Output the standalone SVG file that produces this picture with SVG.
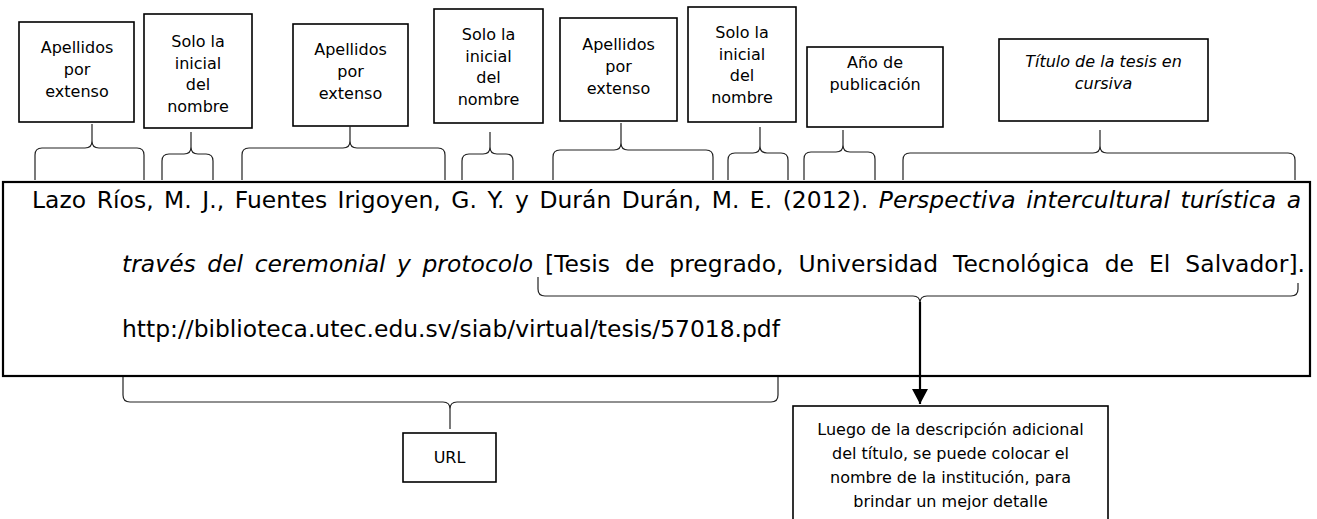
<svg xmlns="http://www.w3.org/2000/svg" width="1317" height="519" viewBox="0 0 1317 519">
<style>
.box{fill:#fff;stroke:#000;stroke-width:1.6}
.main-box{fill:#fff;stroke:#000;stroke-width:2.2}
.brace{fill:none;stroke:#222;stroke-width:1.2}
.lbl{font-family:"DejaVu Sans",Verdana,sans-serif;font-size:16px;text-anchor:middle;fill:#000}
.it{font-style:italic}
.main{font-family:"DejaVu Sans",Verdana,sans-serif;font-size:23.4px;fill:#000}
.arrow{stroke:#000;stroke-width:2.2;fill:none}
</style>
<defs>
<marker id="ah" markerUnits="userSpaceOnUse" markerWidth="18" markerHeight="18" refX="15" refY="8" orient="auto">
<path d="M0,0 L15,8 L0,16 z" fill="#000"/>
</marker>
</defs>
<rect width="1317" height="519" fill="#fff"/>

<g id="cita">
<rect class="main-box" x="3" y="182" width="1307" height="194"/>
<text class="main" x="32" y="208" word-spacing="3" textLength="1269" lengthAdjust="spacing">Lazo Ríos, M. J., Fuentes Irigoyen, G. Y. y Durán Durán, M. E. (2012). <tspan class="it">Perspectiva intercultural turística a</tspan></text>
<text class="main it" x="122" y="272" word-spacing="4" textLength="411" lengthAdjust="spacing">través del ceremonial y protocolo</text>
<text class="main" x="545" y="272" word-spacing="7.5" textLength="760" lengthAdjust="spacing">[Tesis de pregrado, Universidad Tecnológica de El Salvador].</text>
<text class="main" x="122" y="337">http://biblioteca.utec.edu.sv/siab/virtual/tesis/57018.pdf</text>
</g>

<g id="n1">
<rect class="box" x="19" y="22" width="115" height="100"/>
<text class="lbl" x="77" y="53">Apellidos</text>
<text class="lbl" x="77" y="75">por</text>
<text class="lbl" x="77" y="97">extenso</text>
</g>
<g id="n2">
<rect class="box" x="144" y="14" width="108" height="114"/>
<text class="lbl" x="198" y="47">Solo la</text>
<text class="lbl" x="198" y="68.5">inicial</text>
<text class="lbl" x="198" y="90">del</text>
<text class="lbl" x="198" y="111.5">nombre</text>
</g>
<g id="n3">
<rect class="box" x="293" y="24" width="115" height="102"/>
<text class="lbl" x="350.5" y="55">Apellidos</text>
<text class="lbl" x="350.5" y="77">por</text>
<text class="lbl" x="350.5" y="99">extenso</text>
</g>
<g id="n4">
<rect class="box" x="434" y="9" width="109" height="114"/>
<text class="lbl" x="488.5" y="40">Solo la</text>
<text class="lbl" x="488.5" y="61.5">inicial</text>
<text class="lbl" x="488.5" y="83">del</text>
<text class="lbl" x="488.5" y="104.5">nombre</text>
</g>
<g id="n5">
<rect class="box" x="560" y="18" width="117" height="103"/>
<text class="lbl" x="618.5" y="50">Apellidos</text>
<text class="lbl" x="618.5" y="72">por</text>
<text class="lbl" x="618.5" y="94">extenso</text>
</g>
<g id="n6">
<rect class="box" x="688" y="7" width="108" height="115"/>
<text class="lbl" x="742" y="38">Solo la</text>
<text class="lbl" x="742" y="59.5">inicial</text>
<text class="lbl" x="742" y="81">del</text>
<text class="lbl" x="742" y="102.5">nombre</text>
</g>
<g id="n7">
<rect class="box" x="807" y="47" width="136" height="80"/>
<text class="lbl" x="875" y="68">Año de</text>
<text class="lbl" x="875" y="90">publicación</text>
</g>
<g id="n8">
<rect class="box" x="999" y="39" width="209" height="82"/>
<text class="lbl it" x="1103.5" y="67">Título de la tesis en</text>
<text class="lbl it" x="1103.5" y="89">cursiva</text>
</g>
<g id="n9">
<rect class="box" x="403" y="433" width="93" height="49"/>
<text class="lbl" x="449.5" y="463">URL</text>
</g>
<g id="n10">
<rect class="box" x="793" y="406" width="315" height="130"/>
<text class="lbl" x="950.5" y="435">Luego de la descripción adicional</text>
<text class="lbl" x="950.5" y="459">del título, se puede colocar el</text>
<text class="lbl" x="950.5" y="483">nombre de la institución, para</text>
<text class="lbl" x="950.5" y="507">brindar un mejor detalle</text>
</g>

<g id="connectors">
<path class="brace" d="M35 180 L35 155 Q35 148 42 148 L85 148 Q92 148 92 141 L92 124 M92 141 Q92 148 99 148 L137 148 Q144 148 144 155 L144 180"/>
<path class="brace" d="M162 180 L162 161 Q162 154 169 154 L184 154 Q191 154 191 147 L191 132 M191 147 Q191 154 198 154 L206 154 Q213 154 213 161 L213 180"/>
<path class="brace" d="M242 180 L242 155 Q242 148 249 148 L343 148 Q350 148 350 141 L350 126 M350 141 Q350 148 357 148 L438 148 Q445 148 445 155 L445 180"/>
<path class="brace" d="M462 180 L462 161 Q462 154 469 154 L483 154 Q490 154 490 147 L490 132 M490 147 Q490 154 497 154 L506 154 Q513 154 513 161 L513 180"/>
<path class="brace" d="M553 180 L553 157 Q553 150 560 150 L614 150 Q621 150 621 143 L621 123 M621 143 Q621 150 628 150 L706 150 Q713 150 713 157 L713 180"/>
<path class="brace" d="M728 180 L728 160 Q728 153 735 153 L753 153 Q760 153 760 146 L760 127 M760 146 Q760 153 767 153 L781 153 Q788 153 788 160 L788 180"/>
<path class="brace" d="M804 180 L804 159 Q804 152 811 152 L836 152 Q843 152 843 145 L843 130 M843 145 Q843 152 850 152 L868 152 Q875 152 875 159 L875 180"/>
<path class="brace" d="M903 180 L903 160 Q903 153 910 153 L1093 153 Q1100 153 1100 146 L1100 130 M1100 146 Q1100 153 1107 153 L1288 153 Q1295 153 1295 160 L1295 180"/>
<path class="brace" d="M123 377 L123 395 Q123 402 130 402 L443 402 Q450 402 450 409 L450 429 M450 409 Q450 402 457 402 L771 402 Q778 402 778 395 L778 377"/>
<path class="brace" d="M538 277 L538 289 Q538 296 545 296 L913 296 Q920 296 920 303 M920 303 Q920 296 927 296 L1291 296 Q1298 296 1298 289 L1298 283"/>
<line class="arrow" x1="920" y1="302" x2="920" y2="404" marker-end="url(#ah)"/>
</g>
</svg>
